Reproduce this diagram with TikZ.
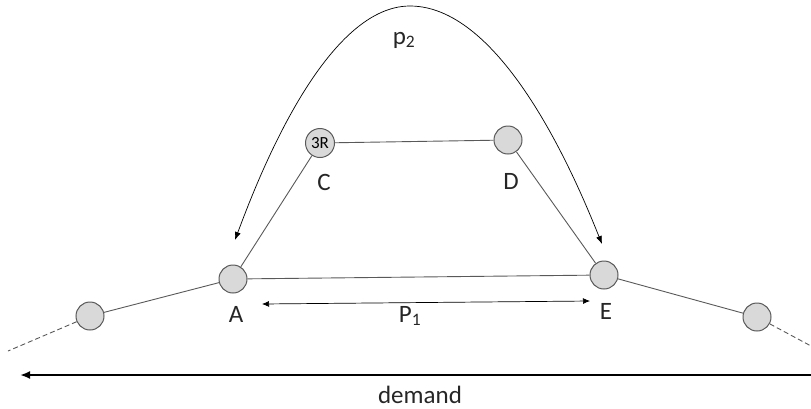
\documentclass[tikz,border=0pt]{standalone}
\usepackage{fontspec}
\setmainfont{Carlito}
\usetikzlibrary{arrows.meta}
\definecolor{nodefill}{HTML}{D9D9D9}
\definecolor{edgegray}{HTML}{595959}
\begin{document}
\begin{tikzpicture}[x=1pt,y=-1pt,
  vtx/.style={circle,draw=edgegray,fill=nodefill,line width=1pt,minimum size=28pt,inner sep=0pt},
  edge/.style={draw=edgegray,line width=0.9pt},
  lbl/.style={font=\fontsize{25}{27}\selectfont,text=black!85},
  arr/.style={line width=0.7pt,black}]
\useasboundingbox (0,0) rectangle (811,408);
\node[vtx] (L) at (90,316) {};
\node[vtx] (A) at (233,279) {};
\node[vtx,minimum size=29pt] (C) at (320,143) {\fontsize{17}{18}\selectfont 3R};
\node[vtx] (D) at (508,140) {};
\node[vtx] (E) at (604,275) {};
\node[vtx] (R) at (757,317) {};
\coordinate (Lend) at (8,351);
\coordinate (Rend) at (811,346);
\draw[edge] (L) -- (A);
\draw[edge] (A) -- (E);
\draw[edge] (A) -- (C);
\draw[edge] (C) -- (D);
\draw[edge] (D) -- (E);
\draw[edge] (E) -- (R);
\draw[edge,dashed,dash pattern=on 5pt off 3pt] (L) -- (Lend);
\draw[edge,dashed,dash pattern=on 5pt off 3pt] (R) -- (Rend);
\node[lbl] (la) at (236,314) {A};
\node[lbl] (le) at (606,311) {E};
\node[lbl] (lc) at (324,182) {C};
\node[lbl] (ld) at (511,181) {D};
\coordinate (p1l) at (262,304);
\coordinate (p1r) at (590,301);
\draw[arr,{Latex[length=7pt,width=6pt]}-{Latex[length=7pt,width=6pt]}] (p1l) -- (p1r);
\node[lbl] (p1) at (410,316) {P\textsubscript{1}};
\coordinate (c1) at (235,240);
\coordinate (bend) at (410,6);
\coordinate (c2) at (602,244);
\draw[arr,{Latex[length=8pt,width=6pt]}-{Latex[length=8pt,width=6pt]}] (c1) parabola bend (bend) (c2);
\node[lbl] (p2) at (404,40) {p\textsubscript{2}};
\coordinate (dl) at (20,375);
\coordinate (dr) at (811,375);
\draw[{Latex[length=10pt,width=8pt]}-,line width=2.2pt] (dl) -- (dr);
\node[lbl,anchor=base,inner sep=0pt] (dem) at (420,403) {demand};
\end{tikzpicture}
\end{document}
